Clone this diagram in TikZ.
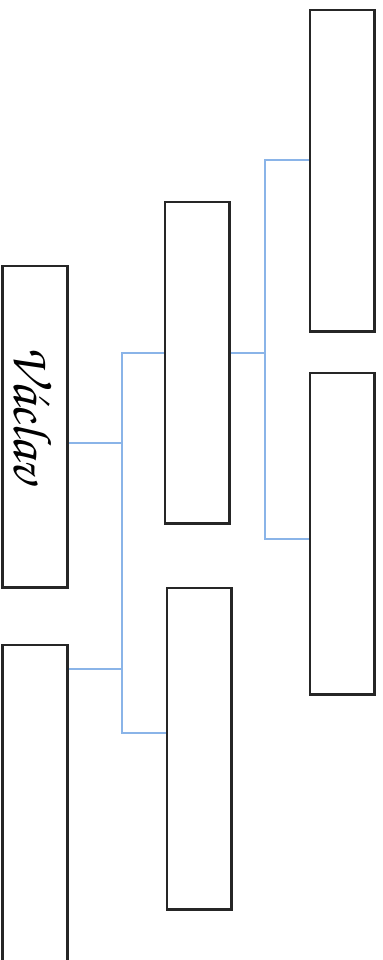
\documentclass[tikz,border=0pt]{standalone}
\begin{document}
\begin{tikzpicture}[x=0.02cm,y=-0.02cm,
  person/.style={draw=black!85,line width=1.4pt,fill=white,inner sep=0pt,
     minimum width=1.3cm,minimum height=6.44cm,anchor=north west},
  link/.style={draw={rgb,255:red,138;green,180;blue,232},line width=0.75pt}]
\useasboundingbox (0,0) rectangle (382,960);
\clip (0,0) rectangle (382,960);
\node[person] (a) at (1.5,264.5) {};
\node[person] (b) at (1.5,643.5) {};
\node[person] (c) at (163.5,200.5) {};
\node[person] (d) at (165.5,586.5) {};
\node[person] (e) at (308.5,8.5) {};
\node[person] (f) at (308.5,371.5) {};
\node[rotate=-90,inner sep=0pt] (name) at (33,414)
  {\fontencoding{T1}\fontfamily{pzc}\fontsize{31}{33}\selectfont V\'aclav};
\coordinate (j1) at (122,443);
\coordinate (j2) at (265,353);
\draw[link] (a.east |- j1) -- (j1);
\draw[link] (b.east |- 0,669) -- (122,669);
\draw[link] (c.west |- 0,353) -| (122,733) -- (d.west |- 0,733);
\draw[link] (c.east |- j2) -- (j2);
\draw[link] (e.west |- 0,160) -| (265,539) -- (f.west |- 0,539);
\end{tikzpicture}
\end{document}
